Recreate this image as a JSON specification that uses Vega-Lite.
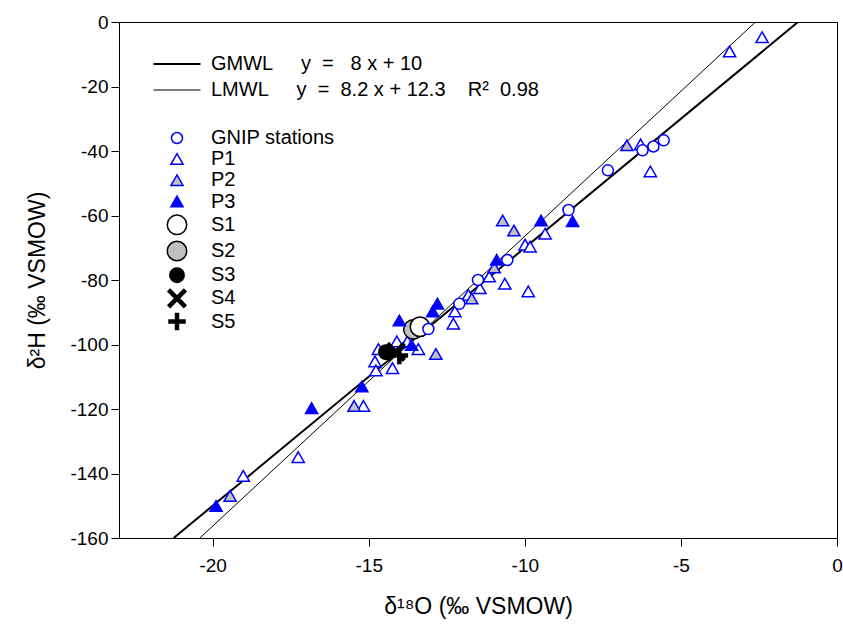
{
  "$schema": "https://vega.github.io/schema/vega-lite/v6.json",
  "width": 718,
  "height": 516,
  "autosize": {"type": "none"},
  "padding": {"left": 119, "top": 22, "right": 6, "bottom": 87},
  "background": "white",
  "config": {
    "font": "Liberation Sans",
    "view": {"stroke": "black", "strokeWidth": 1},
    "axis": {
      "grid": false,
      "domainColor": "black",
      "tickColor": "black",
      "labelColor": "black",
      "titleColor": "black",
      "labelFont": "Liberation Sans",
      "titleFont": "Liberation Sans",
      "labelFontSize": 19,
      "titleFontSize": 23,
      "titleFontWeight": "normal",
      "tickSize": 8,
      "domainWidth": 1,
      "tickWidth": 1,
      "labelFlush": false,
      "labelOverlap": false,
      "labelExpr": "datum.value + ''"
    },
    "legend": {
      "labelFont": "Liberation Sans",
      "labelFontSize": 20,
      "labelColor": "black",
      "labelLimit": 600,
      "padding": 0,
      "symbolOpacity": 1
    }
  },
  "datasets": {
    "lines": [
      {"d18O": -21.25, "d2H": -160, "line": "GMWL"},
      {"d18O": -1.25, "d2H": 0, "line": "GMWL"},
      {"d18O": -20.41, "d2H": -160, "line": "LMWL"},
      {"d18O": -2.61, "d2H": 0, "line": "LMWL"}
    ],
    "points": [
      {"d18O": -2.40, "d2H": -4.8, "series": "P1"},
      {"d18O": -3.44, "d2H": -9.2, "series": "P1"},
      {"d18O": -6.29, "d2H": -38.0, "series": "P1"},
      {"d18O": -5.98, "d2H": -46.4, "series": "P1"},
      {"d18O": -9.35, "d2H": -65.7, "series": "P1"},
      {"d18O": -9.99, "d2H": -69.1, "series": "P1"},
      {"d18O": -9.83, "d2H": -69.7, "series": "P1"},
      {"d18O": -11.14, "d2H": -79.0, "series": "P1"},
      {"d18O": -10.64, "d2H": -81.2, "series": "P1"},
      {"d18O": -9.89, "d2H": -83.6, "series": "P1"},
      {"d18O": -11.44, "d2H": -82.6, "series": "P1"},
      {"d18O": -11.81, "d2H": -84.7, "series": "P1"},
      {"d18O": -12.24, "d2H": -89.8, "series": "P1"},
      {"d18O": -12.29, "d2H": -93.6, "series": "P1"},
      {"d18O": -14.10, "d2H": -99.1, "series": "P1"},
      {"d18O": -13.76, "d2H": -99.1, "series": "P1"},
      {"d18O": -13.41, "d2H": -101.5, "series": "P1"},
      {"d18O": -14.69, "d2H": -101.5, "series": "P1"},
      {"d18O": -14.80, "d2H": -105.3, "series": "P1"},
      {"d18O": -14.77, "d2H": -108.1, "series": "P1"},
      {"d18O": -14.24, "d2H": -107.4, "series": "P1"},
      {"d18O": -15.17, "d2H": -119.1, "series": "P1"},
      {"d18O": -17.26, "d2H": -135.0, "series": "P1"},
      {"d18O": -19.02, "d2H": -140.8, "series": "P1"},
      {"d18O": -6.73, "d2H": -38.3, "series": "P2"},
      {"d18O": -10.71, "d2H": -61.6, "series": "P2"},
      {"d18O": -10.35, "d2H": -64.7, "series": "P2"},
      {"d18O": -10.98, "d2H": -76.2, "series": "P2"},
      {"d18O": -11.70, "d2H": -85.8, "series": "P2"},
      {"d18O": -12.85, "d2H": -103.0, "series": "P2"},
      {"d18O": -15.47, "d2H": -119.1, "series": "P2"},
      {"d18O": -19.44, "d2H": -147.0, "series": "P2"},
      {"d18O": -13.57, "d2H": -95.3, "series": "S2"},
      {"d18O": -13.36, "d2H": -94.5, "series": "S1"},
      {"d18O": -5.55, "d2H": -36.7, "series": "GNIP stations"},
      {"d18O": -5.88, "d2H": -38.6, "series": "GNIP stations"},
      {"d18O": -6.23, "d2H": -39.8, "series": "GNIP stations"},
      {"d18O": -7.34, "d2H": -46.0, "series": "GNIP stations"},
      {"d18O": -8.60, "d2H": -58.3, "series": "GNIP stations"},
      {"d18O": -10.56, "d2H": -73.8, "series": "GNIP stations"},
      {"d18O": -11.50, "d2H": -80.0, "series": "GNIP stations"},
      {"d18O": -12.10, "d2H": -87.4, "series": "GNIP stations"},
      {"d18O": -13.09, "d2H": -95.2, "series": "GNIP stations"},
      {"d18O": -8.47, "d2H": -61.8, "series": "P3"},
      {"d18O": -9.48, "d2H": -61.6, "series": "P3"},
      {"d18O": -10.90, "d2H": -73.8, "series": "P3"},
      {"d18O": -12.80, "d2H": -87.4, "series": "P3"},
      {"d18O": -12.95, "d2H": -89.8, "series": "P3"},
      {"d18O": -14.02, "d2H": -92.6, "series": "P3"},
      {"d18O": -13.63, "d2H": -100.2, "series": "P3"},
      {"d18O": -15.22, "d2H": -113.1, "series": "P3"},
      {"d18O": -16.83, "d2H": -119.8, "series": "P3"},
      {"d18O": -19.89, "d2H": -150.1, "series": "P3"},
      {"d18O": -14.45, "d2H": -102.4, "series": "S3"},
      {"d18O": -14.13, "d2H": -102.3, "series": "S4"},
      {"d18O": -14.02, "d2H": -103.4, "series": "S5"}
    ]
  },
  "layer": [
    {
      "data": {"name": "lines"},
      "mark": {"type": "line", "color": "black", "clip": true},
      "encoding": {
        "x": {
          "field": "d18O", "type": "quantitative",
          "scale": {"domain": [-23, 0], "nice": false, "zero": false},
          "axis": {"values": [-20, -15, -10, -5, 0], "title": "δ¹⁸O (‰ VSMOW)", "labelPadding": 10, "titlePadding": 20}
        },
        "y": {
          "field": "d2H", "type": "quantitative",
          "scale": {"domain": [-160, 0], "nice": false, "zero": false},
          "axis": {"values": [-160, -140, -120, -100, -80, -60, -40, -20, 0], "title": "δ²H (‰ VSMOW)", "labelPadding": 3, "titlePadding": 20}
        },
        "strokeWidth": {
          "field": "line", "type": "nominal",
          "scale": {"type": "point", "domain": ["GMWL", "LMWL"], "range": [2, 1], "padding": 0},
          "legend": {
            "title": null,
            "orient": "none",
            "legendX": 47,
            "legendY": 31,
            "symbolType": "M-2.35,0H2.35",
            "symbolSize": 400,
            "symbolStrokeColor": "black",
            "symbolFillColor": "transparent",
            "labelOffset": 23,
            "rowPadding": 5.5,
            "labelExpr": "datum.label == 'GMWL' ? 'GMWL\u00a0\u00a0\u00a0\u00a0\u00a0y\u00a0\u00a0=\u00a0\u00a0\u00a08 x + 10' : 'LMWL\u00a0\u00a0\u00a0\u00a0\u00a0y\u00a0\u00a0=\u00a0\u00a08.2 x + 12.3\u00a0\u00a0\u00a0\u00a0R²\u00a0\u00a00.98'"
          }
        }
      }
    },
    {
      "data": {"name": "points"},
      "mark": {"type": "point", "size": 400, "opacity": 1, "strokeWidth": 1.5},
      "encoding": {
        "x": {"field": "d18O", "type": "quantitative"},
        "y": {"field": "d2H", "type": "quantitative"},
        "shape": {
          "field": "series", "type": "nominal",
          "scale": {
            "domain": ["GNIP stations", "P1", "P2", "P3", "S1", "S2", "S3", "S4", "S5"],
            "range": [
              "M-0.55,0A0.55,0.55,0,1,0,0.55,0A0.55,0.55,0,1,0,-0.55,0Z",
              "M0,-0.55L0.61,0.51L-0.61,0.51Z",
              "M0,-0.55L0.61,0.51L-0.61,0.51Z",
              "M0,-0.55L0.61,0.51L-0.61,0.51Z",
              "M-0.97,0A0.97,0.97,0,1,0,0.97,0A0.97,0.97,0,1,0,-0.97,0Z",
              "M-0.97,0A0.97,0.97,0,1,0,0.97,0A0.97,0.97,0,1,0,-0.97,0Z",
              "M-0.72,0A0.72,0.72,0,1,0,0.72,0A0.72,0.72,0,1,0,-0.72,0Z",
              "M-0.68,-0.9L0.9,0.68L0.68,0.9L-0.9,-0.68ZM0.68,-0.9L0.9,-0.68L-0.68,0.9L-0.9,0.68Z",
              "M-0.8,-0.15H-0.15V-0.8H0.15V-0.15H0.8V0.15H0.15V0.8H-0.15V0.15H-0.8Z"
            ]
          },
          "legend": {
            "title": null,
            "orient": "none",
            "legendX": 47,
            "legendY": 105,
            "symbolSize": 400,
            "symbolStrokeWidth": 1.5,
            "labelOffset": 23,
            "rowPadding": 0.2
          }
        },
        "fill": {
          "field": "series", "type": "nominal",
          "scale": {
            "domain": ["GNIP stations", "P1", "P2", "P3", "S1", "S2", "S3", "S4", "S5"],
            "range": ["white", "white", "#c0c0c0", "#0000ff", "white", "#c0c0c0", "black", "black", "black"]
          },
          "legend": {
            "title": null,
            "orient": "none",
            "legendX": 47,
            "legendY": 105,
            "symbolSize": 400,
            "symbolStrokeWidth": 1.5,
            "labelOffset": 23,
            "rowPadding": 0.2
          }
        },
        "stroke": {
          "field": "series", "type": "nominal",
          "scale": {
            "domain": ["GNIP stations", "P1", "P2", "P3", "S1", "S2", "S3", "S4", "S5"],
            "range": ["#0000ff", "#0000ff", "#0000ff", "#0000ff", "black", "black", "black", "black", "black"]
          },
          "legend": {
            "title": null,
            "orient": "none",
            "legendX": 47,
            "legendY": 105,
            "symbolSize": 400,
            "symbolStrokeWidth": 1.5,
            "labelOffset": 23,
            "rowPadding": 0.2
          }
        }
      }
    }
  ]
}
